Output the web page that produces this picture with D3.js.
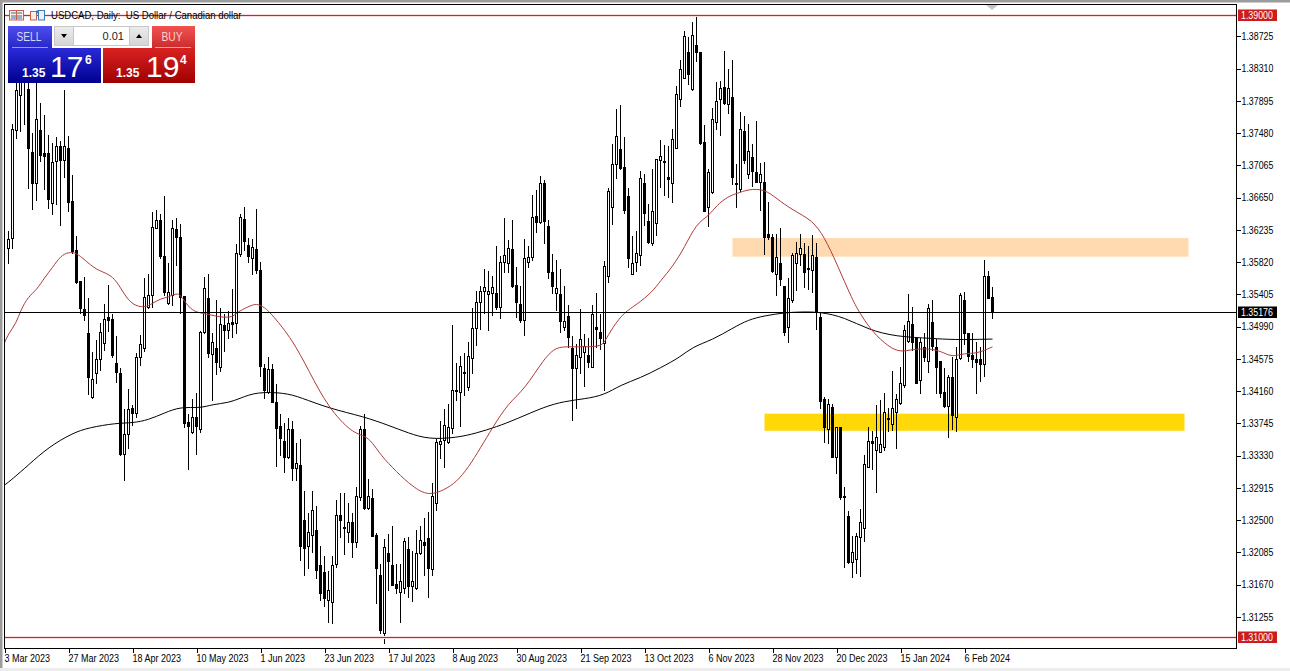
<!DOCTYPE html>
<html><head><meta charset="utf-8">
<script src="https://cdn.jsdelivr.net/npm/d3@7"></script>
<style>
html,body{margin:0;padding:0;background:#fff;overflow:hidden}
svg{display:block}
text{font-family:"Liberation Sans",Arial,sans-serif}
.axis text{font-size:10px;fill:#000;font-family:"Liberation Sans",Arial,sans-serif}
.axis path{display:none}
.axis line{stroke:#000;shape-rendering:crispEdges}
</style></head><body><div id="c"></div>
<script>
// All prices are points above 1.3000 (1 point = 0.0001)
const priceBase = 1.30, point = 0.0001;
const highs = [850,623,761,816,829,842,816,749,816,788,
773,747,737,744,739,805,746,695,617,558,
564,537,468,483,505,529,554,517,488,447,
394,420,399,466,490,563,568,648,650,645,
668,582,637,640,632,540,388,407,415,495,
564,568,492,535,524,517,520,549,607,645,
654,614,613,652,583,452,461,452,426,388,
376,383,379,351,356,289,260,289,269,218,
205,186,205,277,286,286,273,260,294,372,
388,304,291,235,195,227,233,244,195,195,
228,230,212,239,244,254,262,299,356,379,
394,401,502,453,462,466,480,524,546,552,
574,572,565,604,591,640,612,637,577,553,
613,604,670,676,694,689,637,594,586,574,
552,528,488,478,523,491,486,528,544,517,
585,679,735,780,785,744,679,617,623,701,
697,658,703,716,740,734,733,755,810,843,
881,873,892,899,852,760,703,782,815,816,
855,832,843,710,776,771,761,735,765,711,
712,661,619,619,627,551,563,595,609,619,
608,604,618,608,518,410,407,401,370,371,
294,263,231,235,266,335,371,366,399,406,
415,396,443,414,448,502,542,525,486,486,
492,529,535,484,455,447,438,461,474,544,
545,492,492,481,474,586,572,551];
const lows = [815,581,600,742,751,760,677,650,662,712,
676,652,644,657,630,692,648,594,555,516,
508,412,407,426,443,469,493,460,428,334,
302,343,372,383,450,468,523,524,626,587,
540,528,527,578,517,370,316,362,335,363,
491,460,405,438,442,468,484,486,491,590,
598,582,567,568,435,407,414,402,320,334,
312,330,302,302,199,179,188,209,175,147,
139,119,118,190,228,206,222,203,215,276,
264,264,230,143,105,92,160,167,156,119,
156,151,146,161,206,179,151,179,263,330,
318,349,362,405,371,411,418,439,475,496,
517,495,514,522,510,569,569,550,511,505,
488,576,585,621,632,607,562,542,520,492,
495,473,379,394,439,423,447,447,473,470,
418,556,631,690,702,645,576,567,571,578,
630,607,604,617,679,668,666,659,729,783,
819,811,804,841,734,648,628,671,753,746,
785,774,682,653,673,710,690,680,685,649,
592,612,569,540,553,488,479,531,546,578,
550,547,544,496,394,351,349,331,311,277,
190,195,177,182,178,223,318,316,286,338,
340,365,366,343,399,421,479,469,426,414,
455,441,469,414,408,396,357,367,365,457,
477,455,447,414,429,435,536,510];
const opens = [820,600,613,752,797,816,805,724,684,752,
722,722,658,712,731,713,729,661,598,558,
522,491,408,439,457,478,512,509,452,439,
335,361,394,388,460,471,524,540,626,636,
590,529,540,625,614,538,376,363,383,367,
492,536,464,471,447,501,495,505,504,592,
637,604,587,599,572,446,415,444,402,371,
352,331,367,317,321,250,217,231,237,192,
183,147,145,194,257,241,235,248,222,280,
367,266,279,231,180,105,208,192,168,157,
163,213,165,163,208,222,227,187,272,348,
353,350,369,416,415,441,421,459,497,531,
545,541,542,542,524,582,581,599,553,528,
508,582,589,641,634,684,628,569,542,541,
498,513,471,446,460,466,463,447,498,492,
478,564,653,708,728,704,667,567,582,591,
684,635,607,632,713,712,691,684,729,792,
819,852,805,861,852,737,653,672,762,792,
807,785,794,684,676,751,695,717,698,685,
685,618,614,567,581,551,498,533,581,592,
592,574,572,589,511,406,367,396,331,370,
281,255,196,200,228,240,318,352,340,338,
344,381,374,389,401,424,481,502,484,430,
473,455,505,473,455,415,397,434,383,459,
533,491,462,457,457,451,564,537];
const closes = [840,612,753,803,823,829,729,684,766,720,
719,663,711,731,713,731,659,596,556,523,
514,434,432,457,492,509,508,463,441,335,
361,393,388,460,477,537,540,627,636,590,
544,544,626,614,537,375,371,383,371,492,
549,465,479,453,502,495,504,502,594,640,
609,590,601,572,448,417,444,402,369,356,
331,367,317,324,217,214,235,263,186,156,
150,160,192,257,250,240,248,222,281,367,
266,281,230,188,109,215,197,167,163,172,
223,165,172,208,224,218,188,281,351,352,
372,370,418,418,448,439,461,497,531,545,
550,545,550,524,582,591,600,551,531,508,
587,589,640,634,684,635,569,551,549,506,
506,486,446,463,483,474,453,515,496,484,
577,673,708,744,703,649,587,581,594,690,
645,608,648,715,719,711,689,740,798,831,
873,824,874,852,735,648,698,766,789,806,
787,806,692,682,754,713,725,699,685,695,
614,614,571,589,560,492,536,591,594,600,
569,573,591,518,403,370,399,331,370,280,
280,196,209,230,248,322,352,349,357,348,
389,380,394,406,426,495,506,479,426,479,
460,523,474,447,414,397,434,385,457,540,
491,461,457,453,451,564,536,518];

const fastMaBars = [0,1,3,4,6,8,10,12,14,16,18,20,23,26,28,30,32,35,37,39,41,43,44,46,48,51,54,57,58,61,63,65,67,72,76,81,87,90,92,94,98,102,106,110,113,116,119,122,126,130,135,138,141,146,149,150,152,155,158,162,164,167,170,173,176,178,181,183,186,190,193,197,202,205,208,212,214,217,221,224,227,232,235,237,240,243,247];
const fastMa = [478,490,504,520,538,546,562,575,590,595,594,585,572,567,558,540,527,523,529,535,537,542,540,524,517,515,511,511,517,525,529,524,514,482,443,394,362,359,350,334,312,293,281,289,299,318,343,369,401,418,459,473,473,473,474,479,498,518,527,544,558,576,601,632,641,655,667,670,676,676,664,649,636,614,581,533,515,492,473,466,470,471,465,460,465,464,473];
const slowMaBars = [0,2,6,11,17,21,28,32,36,40,44,49,52,56,59,63,70,74,81,90,96,101,106,113,118,123,128,135,140,145,150,154,159,164,169,172,177,182,186,190,195,199,204,210,216,223,232,237,247];
const slowMa = [295,303,321,344,362,369,375,375,379,388,396,394,399,401,407,415,414,408,394,383,372,362,354,356,362,370,380,396,403,406,411,424,433,446,460,473,482,497,508,513,517,518,518,511,495,486,484,482,483];

const priceTicks = [1.38725,1.38310,1.37895,1.37480,1.37065,1.36650,1.36235,1.35820,1.35405,1.34990,1.34575,1.34160,1.33745,1.33330,1.32915,1.32500,1.32085,1.31670,1.31255];
const dateBars = [0,16,32,48,64,80,96,112,128,144,160,176,192,208,224,240];
const dateLabels = ["3 Mar 2023","27 Mar 2023","18 Apr 2023","10 May 2023","1 Jun 2023","23 Jun 2023","17 Jul 2023","8 Aug 2023","30 Aug 2023","21 Sep 2023","13 Oct 2023","6 Nov 2023","28 Nov 2023","20 Dec 2023","15 Jan 2024","6 Feb 2024"];
const resistanceZone = {fromBar:182,toBar:296,top:1.3613,bottom:1.3589};
const supportZone = {fromBar:190,toBar:295,top:1.3387,bottom:1.3365};
const upperLevel = 1.39, lowerLevel = 1.31, lastPrice = 1.35176;

const W=1290,H=671, plot={l:4,t:4,r:1236,b:648};
const toPrice = p => priceBase + p*point;
const x = d3.scaleLinear().domain([0,247]).range([4.5,992.5]);
const yRaw = d3.scaleLinear().domain([lowerLevel,upperLevel]).range([636.7,15.05]);
const y = p => Math.round(yRaw(p))+0.5;
const squeeze = (sel,k)=>sel.each(function(){const s=d3.select(this);s.attr('textLength',this.getComputedTextLength()*k).attr('lengthAdjust','spacingAndGlyphs');});

const svg = d3.select('#c').append('svg').attr('width',W).attr('height',H).attr('viewBox',`0 0 ${W} ${H}`);
const defs = svg.append('defs');
function grad(id,a,b){const g=defs.append('linearGradient').attr('id',id).attr('x1',0).attr('y1',0).attr('x2',0).attr('y2',1);
 g.append('stop').attr('offset',0).attr('stop-color',a);g.append('stop').attr('offset',1).attr('stop-color',b);}
grad('gs','#4f4ff0','#2626c8');grad('gb','#f25252','#c82a2a');grad('gs2','#2a2ad8','#000090');grad('gb2','#d82222','#a00000');grad('gbtn','#ececec','#d4d4d4');
defs.append('clipPath').attr('id','pc').append('rect').attr('x',6).attr('y',5).attr('width',1229).attr('height',642);

// window frame
svg.append('rect').attr('x',0).attr('y',0).attr('width',W).attr('height',H).attr('fill','#fff');
svg.append('rect').attr('x',0).attr('y',0).attr('width',W).attr('height',2.5).attr('fill','#9c9c9c');
svg.append('rect').attr('x',0).attr('y',0).attr('width',2.5).attr('height',H).attr('fill','#9c9c9c');
svg.append('rect').attr('x',0).attr('y',668).attr('width',W).attr('height',3).attr('fill','#ececec');

// zones
const zones=[[resistanceZone,'#ffdab0'],[supportZone,'#ffd808']];
svg.append('g').selectAll('rect').data(zones).join('rect')
 .attr('x',d=>x(d[0].fromBar)).attr('width',d=>x(d[0].toBar)-x(d[0].fromBar))
 .attr('y',d=>yRaw(d[0].top)).attr('height',d=>yRaw(d[0].bottom)-yRaw(d[0].top)).attr('fill',d=>d[1]);

// candles
const bars = d3.range(highs.length);
const cg = svg.append('g').attr('clip-path','url(#pc)');
cg.selectAll('line').data(bars).join('line')
 .attr('x1',x).attr('x2',x)
 .attr('y1',i=>y(toPrice(highs[i]))).attr('y2',i=>y(toPrice(lows[i]))+0.5)
 .attr('stroke','#000').attr('shape-rendering','crispEdges');
cg.selectAll('rect').data(bars).join('rect')
 .attr('x',i=>x(i)-1).attr('width',2)
 .attr('y',i=>y(toPrice(Math.max(opens[i],closes[i]))))
 .attr('height',i=>Math.max(1,y(toPrice(Math.min(opens[i],closes[i])))-y(toPrice(Math.max(opens[i],closes[i])))))
 .attr('fill',i=>closes[i]>=opens[i]?'#fff':'#000').attr('stroke','#000').attr('shape-rendering','crispEdges');

// moving averages
const line = (bs,vs)=>d3.line().x((d,i)=>x(bs[i])).y(d=>yRaw(toPrice(d))).curve(d3.curveBasis)(vs);
svg.append('path').attr('d',line(slowMaBars,slowMa)).attr('fill','none').attr('stroke','#000').attr('stroke-width',1);
svg.append('path').attr('d',line(fastMaBars,fastMa)).attr('fill','none').attr('stroke','#b03a3a').attr('stroke-width',1);

// level lines
[upperLevel,lowerLevel].forEach(p=>{
 svg.append('line').attr('x1',plot.l+1).attr('x2',plot.r).attr('y1',y(p)).attr('y2',y(p)).attr('stroke','#fbdcdc').attr('stroke-width',3).attr('shape-rendering','crispEdges');
});
[[upperLevel,'#d02228'],[lowerLevel,'#d02228'],[lastPrice,'#000']].forEach(([p,c])=>{
 svg.append('line').attr('x1',plot.l+1).attr('x2',plot.r).attr('y1',y(p)).attr('y2',y(p)).attr('stroke',c).attr('shape-rendering','crispEdges');
});

// frame + axes
svg.append('rect').attr('x',4.5).attr('y',4.5).attr('width',plot.r-plot.l).attr('height',plot.b-plot.t).attr('fill','none').attr('stroke','#000').attr('shape-rendering','crispEdges');
svg.append('polygon').attr('points','986,5 998,5 992,10').attr('fill','#c4c4c4');

const ya = svg.append('g').attr('class','axis').attr('transform',`translate(${plot.r+0.5},0)`)
 .call(d3.axisRight(d3.scaleLinear().domain(yRaw.domain()).range(yRaw.range())).tickValues(priceTicks).tickSize(4).tickPadding(1).tickFormat(d3.format('.5f')));
squeeze(ya.selectAll('text'),0.88);
const xa = svg.append('g').attr('class','axis').attr('transform',`translate(0,${plot.b+0.5})`)
 .call(d3.axisBottom(x).tickValues(dateBars).tickSize(4).tickPadding(2).tickFormat((d,i)=>dateLabels[i]));
xa.selectAll('text').attr('text-anchor','start').attr('dx',-0.5);
squeeze(xa.selectAll('text'),0.9);

// price tags
[[upperLevel,'#cc1c1c'],[lowerLevel,'#cc1c1c'],[lastPrice,'#000']].forEach(([p,c])=>{
 const cy=y(p);
 svg.append('rect').attr('x',1238).attr('y',cy-6).attr('width',39).attr('height',11.5).attr('fill',c);
 squeeze(svg.append('text').attr('x',1241).attr('y',cy+3.5).attr('font-size',10).attr('fill','#fff').text(d3.format('.5f')(p)),0.88);
});

// title + icons
const ic = svg.append('g').attr('fill','none');
ic.append('rect').attr('x',9.5).attr('y',10.5).attr('width',14).attr('height',9.5).attr('fill','#fbeee8').attr('stroke','#c8604a');
[13,16,18].forEach(v=>ic.append('line').attr('x1',11).attr('x2',22).attr('y1',v).attr('y2',v).attr('stroke','#3a6ea8'));
ic.append('line').attr('x1',16.5).attr('x2',16.5).attr('y1',11).attr('y2',20).attr('stroke','#c8604a');
ic.append('rect').attr('x',30.5).attr('y',11.5).attr('width',6).attr('height',8.5).attr('fill','#fbeee8').attr('stroke','#c8604a');
ic.append('rect').attr('x',38.5).attr('y',10.5).attr('width',6).attr('height',9.5).attr('fill','#e8f2fb').attr('stroke','#3a7ab8');
ic.append('rect').attr('x',36).attr('y',10.5).attr('width',3).attr('height',3).attr('fill','#3a7ab8');
squeeze(svg.append('text').attr('x',51).attr('y',19).attr('font-size',10).attr('fill','#000').style('white-space','pre').text('USDCAD, Daily:  US Dollar / Canadian dollar'),0.955);

// trade panel
const tp = svg.append('g');
tp.append('rect').attr('x',8).attr('y',26).attr('width',44).attr('height',23).attr('fill','url(#gs)');
tp.append('rect').attr('x',8).attr('y',48).attr('width',93).attr('height',35).attr('fill','url(#gs2)');
tp.append('rect').attr('x',152).attr('y',26).attr('width',43).attr('height',23).attr('fill','url(#gb)');
tp.append('rect').attr('x',103).attr('y',48).attr('width',92).attr('height',35).attr('fill','url(#gb2)');
tp.append('line').attr('x1',12).attr('x2',48).attr('y1',47.5).attr('y2',47.5).attr('stroke','#9a9af0');
tp.append('line').attr('x1',155).attr('x2',191).attr('y1',47.5).attr('y2',47.5).attr('stroke','#f0a0a0');
tp.append('rect').attr('x',54.5).attr('y',26.5).attr('width',94).attr('height',19).attr('fill','#fff').attr('stroke','#c8c8c8');
tp.append('rect').attr('x',54.5).attr('y',26.5).attr('width',19).attr('height',19).attr('fill','url(#gbtn)').attr('stroke','#c8c8c8');
tp.append('rect').attr('x',129.5).attr('y',26.5).attr('width',19).attr('height',19).attr('fill','url(#gbtn)').attr('stroke','#c8c8c8');
tp.append('polygon').attr('points','61,34 67,34 64,38').attr('fill','#000');
tp.append('polygon').attr('points','136,38 142,38 139,34').attr('fill','#000');
const T=(x0,yy,s,fs,c,w,anc)=>tp.append('text').attr('x',x0).attr('y',yy).attr('font-size',fs).attr('fill',c).attr('font-weight',w||'normal').attr('text-anchor',anc||'start').attr('font-family','Open Sans').text(s);
squeeze(T(29,41,'SELL',12,'#d8d8ff','normal','middle'),0.85);
squeeze(T(172,41,'BUY',12,'#ffd0d0','normal','middle'),0.85);
T(124,40,'0.01',11,'#222','normal','end');
T(22,77,'1.35',12,'#fff','bold');
T(50,77,'17',30,'#fff');
T(85,64,'6',12,'#fff','bold');
T(116,77,'1.35',12,'#fff','bold');
T(146,77,'19',30,'#fff');
T(180,64,'4',12,'#fff','bold');
</script></body></html>
